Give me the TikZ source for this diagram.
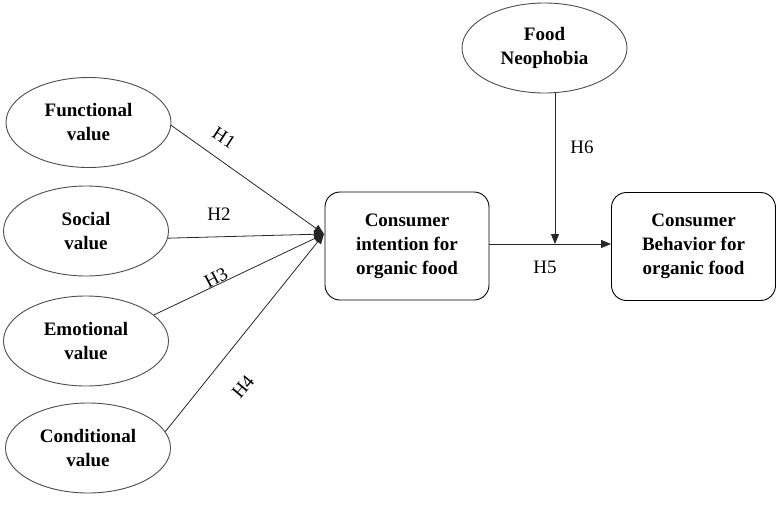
\documentclass[tikz,border=0pt]{standalone}
\usepackage{fontspec}
\setmainfont{Liberation Serif}
\usetikzlibrary{shapes.geometric,arrows.meta}
\begin{document}
\begin{tikzpicture}[x=1pt,y=-1pt,
  ell/.style={ellipse,draw=black!70,line width=0.9pt,minimum width=165pt,minimum height=90pt,inner sep=0pt,align=center,font=\fontsize{19}{24}\selectfont\bfseries},
  rbox/.style={rectangle,rounded corners=15pt,draw=black,line width=0.9pt,minimum width=164pt,minimum height=108pt,align=center,font=\fontsize{19}{24}\selectfont\bfseries},
  conn/.style={draw=black!85,line width=0.8pt},
  arr/.style={conn,-{Triangle[length=10pt,width=8pt]}},
  lab/.style={font=\fontsize{19}{22}\selectfont,inner sep=0pt}]
\useasboundingbox (0,0) rectangle (780,509);
\node[ell] (func) at (88.5,122.5) {Functional\\value};
\node[ell] (soc) at (86,231) {Social\\value};
\node[ell] (emo) at (86,341) {Emotional\\value};
\node[ell] (cond) at (88,448) {Conditional\\value};
\node[ell] (neo) at (544.5,48) {Food\\Neophobia};
\node[rbox] (ci) at (407,246) {Consumer\\intention for\\organic food};
\node[rbox] (cb) at (693.5,246.5) {Consumer\\Behavior for\\organic food};
\coordinate (c) at (324,234);
\coordinate (j) at (555,244);
\draw[arr] (func.-2) -- (c);
\draw[arr] (soc.-5) -- (c);
\draw[arr] (emo.21) -- (c);
\draw[arr] (cond.12) -- (c);
\draw[arr] (ci.east |- j) -- (cb.west |- j);
\draw[arr] (neo.south -| j) -- (j);
\node[lab,rotate=-33] (h1) at (224,138) {H1};
\node[lab] (h2) at (219,214) {H2};
\node[lab,rotate=28] (h3) at (216,278) {H3};
\node[lab,rotate=50] (h4) at (243,387) {H4};
\node[lab] (h5) at (545,267) {H5};
\node[lab] (h6) at (582,147) {H6};
\end{tikzpicture}
\end{document}
